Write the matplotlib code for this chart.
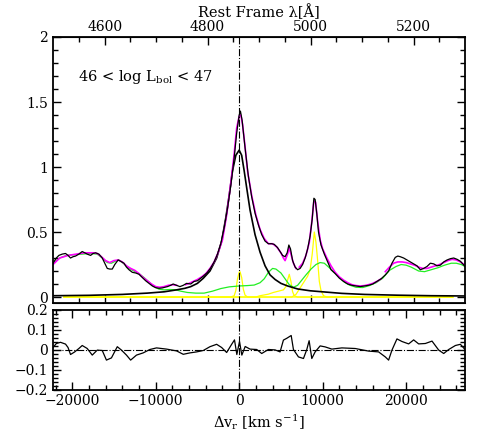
import numpy as np
import matplotlib
matplotlib.use("Agg")
import matplotlib.pyplot as plt
from matplotlib.ticker import MultipleLocator, FixedLocator

plt.rcParams['font.family'] = ['DejaVu Serif']
plt.rcParams['mathtext.fontset'] = 'dejavuserif'

C_KMS = 299792.458
LAM_HB = 4861.33  # Hbeta rest wavelength

# observed spectrum (velocity km/s, flux)
v_spec = [-22300, -21900, -21600, -21200, -20800, -20500, -20200, -19900, -19600, -19200,
          -18800, -18500, -18200, -17800, -17500, -17200, -16800, -16400, -16100, -15800,
          -15500, -15200, -14900, -14500, -14200, -13800, -13500, -13200, -12800, -12400,
          -12000, -11600, -11200, -10800, -10400, -10000, -9600, -9200, -8600, -8200,
          -7900, -7500, -7100, -6700, -6300, -5800, -5400, -5000, -4600, -4300,
          -3800, -3400, -3000, -2600, -2200, -1800, -1400, -1000, -600, -300,
          0, 150, 350, 700, 1100, 1500, 1900, 2300, 2700, 3100,
          3500, 3900, 4200, 4600, 4900, 5200, 5500, 5750, 5950, 6150,
          6400, 6700, 7000, 7300, 7600, 7900, 8200, 8500, 8750, 8950,
          9100, 9300, 9500, 9800, 10200, 10600, 11000, 11500, 12000, 12500,
          13000, 13500, 14000, 14500, 15000, 15500, 16000, 16500, 17000, 17500,
          17900, 18300, 18700, 19000, 19300, 19700, 20100, 20500, 20900, 21300,
          21700, 22100, 22500, 22900, 23300, 23700, 24100, 24500, 24900, 25300,
          25700, 26100, 26500, 27050]
f_spec = [0.26, 0.30, 0.32, 0.33, 0.335, 0.32, 0.30, 0.31, 0.315, 0.33,
          0.35, 0.34, 0.33, 0.32, 0.335, 0.34, 0.33, 0.30, 0.26, 0.22,
          0.215, 0.215, 0.25, 0.285, 0.275, 0.26, 0.23, 0.21, 0.19, 0.185,
          0.175, 0.15, 0.125, 0.105, 0.085, 0.072, 0.067, 0.07, 0.08, 0.09,
          0.10, 0.09, 0.08, 0.09, 0.105, 0.10, 0.12, 0.125, 0.145, 0.16,
          0.19, 0.225, 0.27, 0.33, 0.41, 0.53, 0.68, 0.86, 1.07, 1.26,
          1.40, 1.43, 1.36, 1.15, 0.93, 0.77, 0.645, 0.555, 0.48, 0.43,
          0.41, 0.41, 0.405, 0.38, 0.35, 0.32, 0.31, 0.34, 0.40, 0.37,
          0.28, 0.23, 0.21, 0.22, 0.25, 0.30, 0.37, 0.47, 0.60, 0.76,
          0.75, 0.64, 0.50, 0.40, 0.33, 0.27, 0.21, 0.18, 0.145, 0.12,
          0.10, 0.09, 0.085, 0.08, 0.085, 0.09, 0.10, 0.12, 0.14, 0.17,
          0.20, 0.26, 0.305, 0.315, 0.31, 0.30, 0.285, 0.27, 0.255, 0.24,
          0.21, 0.22, 0.235, 0.26, 0.255, 0.24, 0.245, 0.27, 0.285, 0.295,
          0.30, 0.29, 0.275, 0.235]

# total model (gaps = masked fit windows)
v_model = [-22300, -21500, -20500, -19500, -18500, -17500, -17000, -16500, -16000, -15500,
           -15000, -14500, -14000, -13500, -13000, -12500, -12000, -11500, -11000, -10500,
           -10000, -9500, -9000, -8500, -8000, -7500, -6900, -6400, -6000, -5500,
           -5000, -4500, -4000, -3500, -3000, -2500, -2000, -1500, -1000, -600,
           -300, 0, 200, 400, 700, 1000, 1500, 2000, 2500, 3000,
           3500, 4000, 4500, 5000, 5300, 5500, 5800, 6000, 6200, 6500,
           6800, 7000, 7200, 7600, 8000, 8400, 8700, 8950, 9150, 9400,
           9700, 10000, 10500, 11000, 11500, 12000, 12500, 13000, 13500, 14000,
           14500, 15000, 15500, 16000, 16500, 17000, 17300, 17500, 18000, 18500,
           19000, 19500, 20000, 20500, 21000, 21500, 22000, 22500, 23000, 23500,
           24000, 24500, 25000, 25500, 26000, 26500, 27050]
f_model = [0.25, 0.30, 0.32, 0.33, 0.34, 0.34, 0.335, 0.31, 0.28, 0.265,
           0.28, 0.285, 0.27, 0.24, 0.22, 0.205, 0.18, 0.15, 0.125, 0.10,
           0.08, 0.075, 0.08, 0.09, 0.095, 0.09, np.nan, 0.095, 0.105, 0.12,
           0.135, 0.155, 0.18, 0.22, 0.27, 0.345, 0.44, 0.63, 0.88, 1.10,
           1.30, 1.39, 1.40, 1.33, 1.16, 0.97, 0.78, 0.63, 0.52, 0.45,
           0.41, 0.41, 0.385, 0.34, 0.30, 0.28, 0.33, 0.38, 0.33, 0.26,
           0.22, np.nan, 0.23, 0.26, 0.32, 0.42, 0.58, 0.74, 0.73, 0.58,
           0.44, 0.37, 0.30, 0.24, 0.19, 0.155, 0.13, 0.11, 0.095, 0.088,
           0.085, 0.088, 0.095, 0.105, 0.12, 0.14, np.nan, 0.195, 0.23, 0.26,
           0.27, 0.27, 0.265, 0.255, 0.245, 0.23, 0.22, 0.22, 0.23, 0.24,
           0.25, 0.265, 0.28, 0.29, 0.285, 0.27, 0.245]

# broad Hbeta component
v_broad = [-22300, -18000, -14000, -11000, -9000, -7500, -6500, -5800, -5000, -4300,
           -3500, -2700, -2100, -1600, -1200, -800, -400, 0, 300, 600,
           900, 1300, 1900, 2500, 3100, 3700, 4300, 5000, 5800, 7000,
           8500, 10000, 12300, 15000, 19000, 23000, 27050]
f_broad = [0.01, 0.013, 0.02, 0.03, 0.04, 0.055, 0.067, 0.08, 0.105, 0.144,
           0.20, 0.30, 0.43, 0.61, 0.78, 0.97, 1.09, 1.13, 1.09, 0.97,
           0.84, 0.67, 0.48, 0.345, 0.24, 0.17, 0.135, 0.105, 0.085, 0.062,
           0.048, 0.04, 0.028, 0.02, 0.014, 0.01, 0.008]

# FeII template
v_feii = [-22300, -21500, -20700, -19800, -18800, -17800, -17000, -16400, -15800, -15300,
          -14700, -14400, -13800, -13200, -12600, -12000, -11400, -10800, -10200, -9600,
          -9000, -8300, -7600, -7000, -6200, -5200, -4200, -3200, -2200, -1200,
          0, 1000, 1800, 2500, 3000, 3500, 4000, 4400, 5000, 5500,
          6000, 6500, 7000, 7500, 8000, 8600, 9200, 9700, 10200, 10800,
          11400, 12000, 12600, 13200, 14000, 14800, 15600, 16400, 17200, 18000,
          18800, 19400, 20000, 20600, 21500, 22200, 23000, 23800, 24600, 25400,
          26000, 26600, 27050]
f_feii = [0.26, 0.30, 0.32, 0.325, 0.33, 0.335, 0.33, 0.30, 0.265, 0.26,
          0.28, 0.285, 0.255, 0.22, 0.20, 0.18, 0.15, 0.115, 0.08, 0.06,
          0.055, 0.058, 0.055, 0.045, 0.035, 0.03, 0.03, 0.045, 0.065, 0.078,
          0.085, 0.088, 0.092, 0.11, 0.14, 0.19, 0.22, 0.215, 0.185, 0.14,
          0.095, 0.075, 0.09, 0.13, 0.17, 0.215, 0.25, 0.265, 0.26, 0.225,
          0.19, 0.15, 0.115, 0.092, 0.075, 0.073, 0.088, 0.11, 0.145, 0.205,
          0.235, 0.25, 0.245, 0.23, 0.20, 0.195, 0.21, 0.225, 0.245, 0.26,
          0.26, 0.25, 0.235]

# narrow components: Hbeta narrow, [OIII]4959, [OIII]5007
v_hbn = [-21000, -1000, -600, -400, -200, 0, 100, 300, 500, 700, 1000, 25600]
f_hbn = [0, 0, 0.01, 0.05, 0.14, 0.19, 0.195, 0.15, 0.06, 0.015, 0, 0]
v_o4959 = [-21000, 2000, 2500, 3500, 4100, 4700, 5300, 5600, 5800, 6000,
           6200, 6400, 6600, 7000, 25600]
f_o4959 = [0, 0, 0.01, 0.022, 0.035, 0.045, 0.055, 0.08, 0.13, 0.175,
           0.12, 0.04, 0.01, 0, 0]
v_o5007 = [-21000, 6300, 6800, 7300, 7800, 8200, 8500, 8750, 9000, 9200,
           9400, 9600, 9800, 10100, 10500, 25600]
f_o5007 = [0, 0, 0.02, 0.07, 0.12, 0.16, 0.21, 0.33, 0.50, 0.42,
           0.28, 0.12, 0.05, 0.01, 0, 0]

# residuals
v_res = [-22300, -21900, -21400, -20800, -20500, -20200, -19700, -19200, -18800, -18200,
         -17600, -17000, -16400, -15900, -15300, -14900, -14600, -14100, -13500, -13000,
         -12300, -11500, -10700, -9900, -8700, -7500, -6700, -5900, -5100, -4300,
         -3500, -2700, -2100, -1500, -900, -560, -280, 40, 320, 720,
         1300, 2100, 2700, 3500, 4300, 4900, 5300, 5700, 6230, 6500,
         7100, 7700, 8100, 8380, 8700, 9100, 9700, 10300, 11100, 12300,
         13900, 15500, 16700, 17500, 17900, 18300, 18900, 19500, 20300, 20900,
         21500, 22300, 23100, 23900, 24500, 25100, 25900, 26500, 27050]
r_res = [0.01, 0.03, 0.036, 0.027, 0.01, -0.025, -0.012, 0.005, 0.02, 0.005,
         -0.028, -0.003, -0.005, -0.053, -0.042, -0.01, 0.014, -0.003, -0.028, -0.053,
         -0.028, -0.017, 0.0, 0.008, 0.002, -0.007, -0.024, -0.017, -0.012, -0.005,
         0.014, 0.026, 0.01, -0.015, 0.026, 0.048, -0.025, 0.04, -0.028, 0.015,
         0.002, 0.0, -0.02, 0.0, -0.002, -0.012, 0.047, 0.056, 0.07, 0.0,
         -0.037, -0.045, 0.0, 0.044, -0.045, -0.012, 0.018, 0.013, 0.002, 0.008,
         0.005, -0.008, -0.012, -0.037, -0.053, -0.003, 0.053, 0.04, 0.028, 0.048,
         0.028, 0.03, 0.042, -0.003, -0.02, 0.0, 0.02, 0.026, 0.0]

lam_ticks = [4600, 4800, 5000, 5200]


def v2lam(v):
    return LAM_HB * (1 + np.asarray(v) / C_KMS)


def lam2v(lam):
    return (np.asarray(lam) / LAM_HB - 1) * C_KMS


W, H = 491, 436
fig = plt.figure(figsize=(W / 100, H / 100), dpi=100)
ax = fig.add_axes([53 / W, 1 - 303 / H, (465 - 53) / W, (303 - 37) / H])
axr = fig.add_axes([53 / W, 1 - 389.5 / H, (465 - 53) / W, (389.5 - 309.5) / H])

lw = 0.9
ax.plot(v_hbn, f_hbn, color='#ffff00', lw=lw)
ax.plot(v_o4959, f_o4959, color='#ffff00', lw=lw)
ax.plot(v_o5007, f_o5007, color='#ffff00', lw=lw)
ax.plot(v_feii, f_feii, color='#22ee22', lw=lw)
ax.plot(v_broad, f_broad, color='black', lw=1.2)
ax.plot(v_model, f_model, color='#ff00ff', lw=1.2)
ax.plot(v_spec, f_spec, color='black', lw=lw)
ax.axvline(0, color='black', lw=0.8, ls='-.')

ax.set_xlim(-22300, 27050)
ax.set_ylim(-0.046, 2.0)
ax.set_yticks([0, 0.5, 1, 1.5, 2])
ax.set_yticklabels(['0', '0.5', '1', '1.5', '2'])
ax.yaxis.set_minor_locator(MultipleLocator(0.1))
ax.tick_params(axis='y', which='both', direction='in', left=True, right=True, labelsize=10)
ax.tick_params(axis='y', which='major', length=6, width=1)
ax.tick_params(axis='y', which='minor', length=3.5, width=1)
ax.tick_params(axis='x', which='both', bottom=False, top=False, labelbottom=False)

# wavelength axes on top and bottom of the main panel
for side in ['top', 'bottom']:
    sec = ax.secondary_xaxis(side, functions=(v2lam, lam2v))
    sec.xaxis.set_major_locator(FixedLocator(lam_ticks))
    sec.xaxis.set_minor_locator(FixedLocator(list(range(4550, 5300, 50))))
    sec.tick_params(which='both', direction='in', width=1)
    sec.tick_params(which='major', length=6)
    sec.tick_params(which='minor', length=3.5)
    if side == 'top':
        sec.set_xlabel('Rest Frame λ[Å]', fontsize=10.5, labelpad=2)
        sec.tick_params(labelsize=10, pad=2)
    else:
        sec.tick_params(labelbottom=False)

ax.text(-19300, 1.69, r'46 < log L$_{\rm bol}$ < 47', fontsize=10.5, va='center')

# residual panel
axr.plot(v_res, r_res, color='black', lw=lw)
axr.axhline(0, color='black', lw=0.8, ls='-.')
axr.axvline(0, color='black', lw=0.8, ls='-.')
axr.set_xlim(-22300, 27050)
axr.set_ylim(-0.2, 0.2)
axr.set_yticks([-0.2, -0.1, 0, 0.1, 0.2])
axr.set_yticklabels(['−0.2', '−0.1', '0', '0.1', '0.2'])
axr.yaxis.set_minor_locator(MultipleLocator(0.02))
axr.set_xticks([-20000, -10000, 0, 10000, 20000])
axr.set_xticklabels(['−20000', '−10000', '0', '10000', '20000'])
axr.xaxis.set_minor_locator(MultipleLocator(2000))
axr.tick_params(which='both', direction='in', top=True, right=True, width=1, labelsize=10)
axr.tick_params(which='major', length=6)
axr.tick_params(which='minor', length=3.5)
axr.set_xlabel(r'$\Delta$v$_{\rm r}$ [km s$^{-1}$]', fontsize=10.5, labelpad=3)

for a in (ax, axr):
    for s in a.spines.values():
        s.set_linewidth(1.3)

fig.savefig('out.png', dpi=100)
